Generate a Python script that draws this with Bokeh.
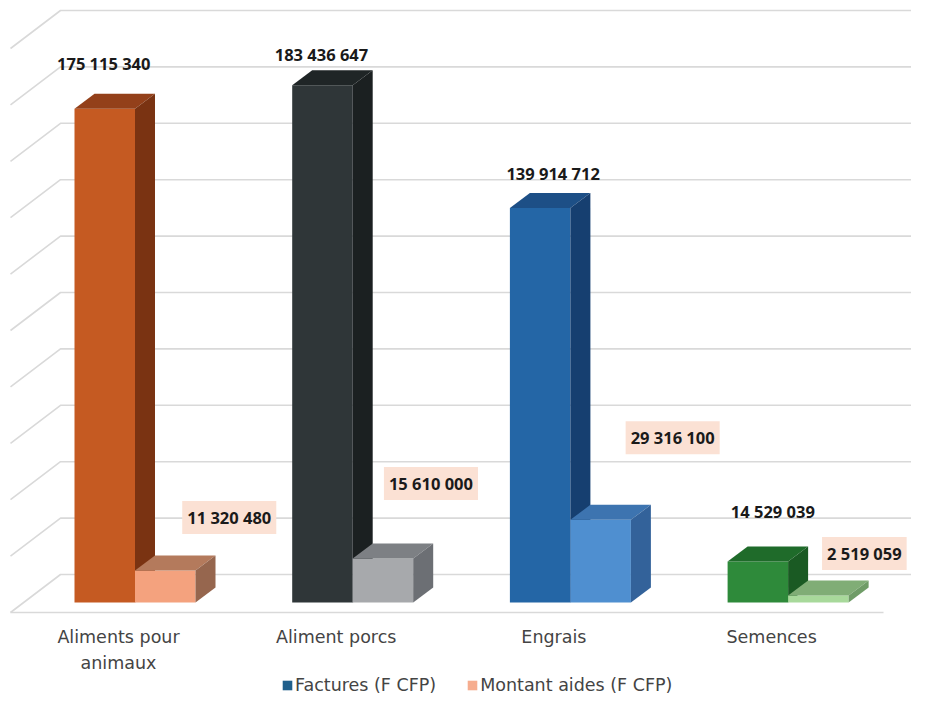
from bokeh.plotting import figure
from bokeh.models import Range1d, Legend, LegendItem
from bokeh.embed import file_html
from bokeh.resources import INLINE
from bokeh.core.properties import value

# ---------------- data ----------------
categories = ["Aliments pour\nanimaux", "Aliment porcs", "Engrais", "Semences"]
factures = [175115340, 183436647, 139914712, 14529039]
aides = [11320480, 15610000, 29316100, 2519059]
grid_values = [0, 20e6, 40e6, 60e6, 80e6, 100e6, 120e6, 140e6, 160e6, 180e6, 200e6]
series_names = ["Factures (F CFP)", "Montant aides (F CFP)"]

# ---------------- styles ----------------
main_front = ["#c55a22", "#2f3638", "#2466a6", "#2e8a3a"]
main_top = ["#93401a", "#1f2526", "#1d4f86", "#1f6b2a"]
main_side = ["#7a3312", "#1b2021", "#163f70", "#1a5a23"]
aide_front = ["#f4a27e", "#a7a9ac", "#4f8fd0", "#a8d99b"]
aide_top = ["#b47a5c", "#7d8084", "#3d74b0", "#80ad76"]
aide_side = ["#96664e", "#6c6f74", "#33629a", "#6f9c67"]
legend_colors = ["#1f5f8b", "#f6ad8f"]

W, H = 911, 695
K = 2.82e-6          # pixels per unit of value
ORIGIN = 602          # screen y of value 0 on bar fronts


def up(px):
    """pixel offset upward expressed in value units"""
    return px / K


p = figure(width=W, height=H, output_backend="svg", toolbar_location=None,
           x_range=Range1d(0, W), y_range=Range1d((ORIGIN - H) / K, ORIGIN / K),
           x_axis_location=None, y_axis_location=None, min_border=0)
p.outline_line_color = None
p.xgrid.visible = False
p.ygrid.visible = False
p.background_fill_color = "white"

# ---------------- 3D floor / wall gridlines ----------------
FRONT_Y, BACK_Y = up(-10), up(28)
WALL_FRONT_X, WALL_BACK_X, RIGHT_FRONT_X, RIGHT_BACK_X = 10, 60, 883, 940
gx, gy = [], []
for g in grid_values:
    gx.append([WALL_FRONT_X, WALL_BACK_X, RIGHT_BACK_X])
    gy.append([g + FRONT_Y, g + BACK_Y, g + BACK_Y])
gx.append([WALL_FRONT_X, RIGHT_FRONT_X])
gy.append([FRONT_Y, FRONT_Y])
p.multi_line(xs=gx, ys=gy, line_color="#d9d9d9", line_width=1.6)

# ---------------- 3D bars ----------------
G0, STEP, BW, DX = 74, 217.7, 60.5, 20
DEPTH = up(15)
lefts = [G0 + i * STEP for i in range(len(categories))]


def draw_bars(xl, vals, front, top, side):
    xr = [x + BW for x in xl]
    p.quad(left=xl, right=xr, bottom=[0] * len(vals), top=vals,
           fill_color=front, line_color=None)
    txs = [[a, b, b + DX, a + DX] for a, b in zip(xl, xr)]
    tys = [[v, v, v + DEPTH, v + DEPTH] for v in vals]
    p.patches(xs=txs, ys=tys, fill_color=top, line_color=None)
    sxs = [[b, b, b + DX, b + DX] for b in xr]
    sys_ = [[0, v, v + DEPTH, DEPTH] for v in vals]
    p.patches(xs=sxs, ys=sys_, fill_color=side, line_color=None)


draw_bars(lefts, factures, main_front, main_top, main_side)
aide_lefts = [x + BW for x in lefts]
draw_bars(aide_lefts, aides, aide_front, aide_top, aide_side)


def fmt(v):
    return f"{v:,}".replace(",", " ")


# ---------------- value labels ----------------
f_dx = [-1, -1, 13, 15]
f_dy = [45, 31, 34, 50]
p.text(x=[x + BW / 2 + d for x, d in zip(lefts, f_dx)],
       y=[v + up(d) for v, d in zip(factures, f_dy)],
       text=[fmt(v) for v in factures], text_align="center", text_baseline="middle",
       text_font=value("Open Sans"), text_font_style="bold", text_font_size="16.5px",
       text_color="#1a1a1a")

a_dx = [64, 48, 72, 46]
a_dy = [53, 75, 82, 42]
p.text(x=[x + BW / 2 + d for x, d in zip(aide_lefts, a_dx)],
       y=[v + up(d) for v, d in zip(aides, a_dy)],
       text=[fmt(v) for v in aides], text_align="center", text_baseline="middle",
       text_font=value("Open Sans"), text_font_style="bold", text_font_size="16.5px",
       text_color="#1a1a1a", background_fill_color="#fbe1d4", padding=5)

# ---------------- category labels ----------------
p.text(x=[x + 44 for x in lefts], y=[up(ORIGIN - 626)] * len(categories),
       text=categories, text_align="center", text_baseline="top",
       text_font=value("DejaVu Sans"), text_font_size="17.5px", text_color="#444444",
       text_line_height=1.3)

# ---------------- legend ----------------
OFF = -1e9  # keeps the legend-only glyphs outside the visible range
r1 = p.quad(left=[OFF], right=[OFF + 1], top=[OFF + 1], bottom=[OFF],
            fill_color=legend_colors[0], line_color=None)
r2 = p.quad(left=[OFF], right=[OFF + 1], top=[OFF + 1], bottom=[OFF],
            fill_color=legend_colors[1], line_color=None)
legend = Legend(items=[LegendItem(label=series_names[0], renderers=[r1]),
                       LegendItem(label=series_names[1], renderers=[r2])],
                location=(281, 0), orientation="horizontal", glyph_width=12, glyph_height=12,
                label_standoff=2, spacing=30, padding=0, margin=0,
                border_line_alpha=0, background_fill_alpha=0,
                label_text_font="DejaVu Sans", label_text_font_size="17.5px",
                label_text_color="#444444", label_height=18)
p.add_layout(legend)

open("out.html", "w").write(file_html(p, INLINE))
